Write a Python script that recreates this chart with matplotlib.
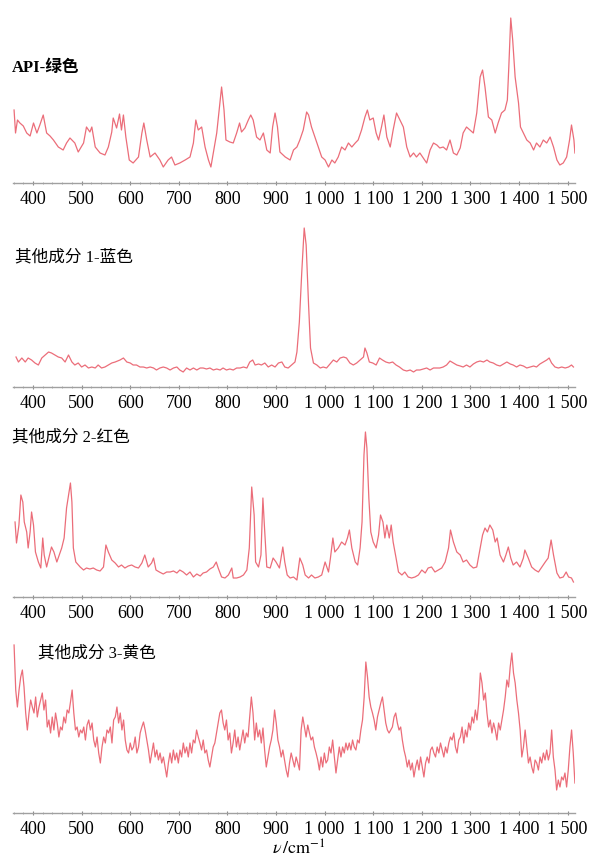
#!/usr/bin/env python3
import numpy as np
import matplotlib
matplotlib.use('Agg')
import matplotlib.pyplot as plt
from matplotlib.ticker import MultipleLocator, FuncFormatter

# API - verde
api_nu = [361, 364, 368, 373, 380, 387, 394, 401, 408, 414, 421, 428, 435, 442, 452, 462, 469, 476,
          486, 493, 504, 510, 517, 521, 528, 538, 548, 555, 562, 565, 572, 578, 582, 586, 591, 598,
          606, 617, 624, 628, 634, 641, 651, 661, 668, 678, 685, 692, 702, 713, 723, 730, 735, 740,
          747, 754, 761, 766, 771, 778, 783, 788, 793, 797, 805, 812, 819, 825, 829, 836, 843, 848,
          853, 860, 867, 874, 881, 888, 893, 898, 903, 908, 919, 929, 936, 943, 949, 956, 963, 967,
          973, 980, 987, 994, 1001, 1008, 1015, 1021, 1028, 1035, 1042, 1049, 1056, 1063, 1069,
          1076, 1083, 1088, 1093, 1100, 1106, 1111, 1117, 1122, 1128, 1135, 1141, 1148, 1155, 1162,
          1169, 1176, 1183, 1189, 1196, 1203, 1210, 1217, 1224, 1231, 1237, 1244, 1251, 1258, 1265,
          1272, 1279, 1285, 1292, 1299, 1306, 1313, 1320, 1325, 1330, 1337, 1344, 1351, 1357, 1364,
          1371, 1376, 1379, 1383, 1387, 1392, 1399, 1403, 1409, 1416, 1423, 1430, 1436, 1443, 1450,
          1457, 1464, 1471, 1478, 1484, 1491, 1498, 1504, 1508, 1513, 1515]
api_int = [73, 50, 63, 60, 57, 50, 47, 60, 50, 58, 68, 50, 47, 43, 36, 33, 40, 45,
           40, 31, 40, 56, 51, 56, 36, 30, 28, 36, 51, 65, 55, 69, 53, 68, 46, 23,
           20, 26, 50, 60, 43, 26, 30, 23, 16, 23, 26, 18, 20, 23, 26, 40, 63, 53,
           56, 36, 23, 16, 30, 50, 73, 96, 73, 43, 41, 40, 50, 60, 51, 55, 63, 68,
           63, 46, 43, 50, 33, 30, 56, 70, 56, 31, 26, 23, 33, 36, 43, 53, 71, 68,
           56, 46, 36, 26, 23, 16, 23, 20, 26, 36, 33, 40, 36, 40, 43,
           53, 66, 73, 63, 65, 50, 43, 56, 68, 46, 36, 53, 70, 63, 56,
           36, 26, 30, 26, 30, 25, 20, 33, 40, 38, 35, 36, 33, 43, 30,
           28, 35, 50, 56, 53, 50, 70, 106, 113, 96, 66, 63, 50, 60, 70,
           73, 83, 116, 165, 143, 106, 80, 56, 50, 43, 40, 33, 40, 36, 43,
           40, 46, 36, 23, 18, 20, 26, 43, 58, 43, 30]

# Otros componentes 1 - azul
comp1_nu = [365, 370, 377, 384, 390, 397, 404, 411, 418, 425, 432, 438, 445, 452, 459, 466, 473, 480,
            486, 493, 500, 507, 514, 521, 528, 534, 541, 548, 555, 562, 569, 579, 586, 593, 600, 606,
            613, 620, 627, 634, 641, 648, 654, 661, 668, 675, 682, 689, 696, 702, 709, 716, 723, 730,
            737, 744, 750, 757, 764, 771, 778, 785, 791, 798, 805, 812, 819, 826, 833, 840, 846, 852,
            857, 864, 870, 877, 884, 891, 898, 905, 912, 918, 925, 932, 939, 943, 948, 953, 958, 962,
            967, 971, 977, 984, 991, 997, 1004, 1011, 1018, 1025, 1032, 1039, 1045, 1052, 1059, 1066,
            1073, 1080, 1083, 1087, 1092, 1099, 1106, 1113, 1119, 1126, 1133, 1140, 1147, 1154, 1162,
            1169, 1176, 1183, 1189, 1196, 1203, 1210, 1217, 1224, 1231, 1237, 1244, 1251, 1258, 1265,
            1272, 1279, 1285, 1292, 1299, 1306, 1313, 1320, 1327, 1334, 1340, 1347, 1354, 1361, 1368,
            1375, 1382, 1388, 1395, 1402, 1409, 1416, 1423, 1430, 1436, 1443, 1450, 1457, 1462, 1467,
            1474, 1481, 1488, 1495, 1502, 1508, 1512]
comp1_int = [30, 25, 29, 25, 29, 27, 24, 22, 29, 32, 35, 34, 32, 30, 29, 25, 32, 25,
             22, 24, 20, 22, 19, 20, 19, 22, 19, 20, 22, 24, 25, 27, 29, 25, 24, 22,
             22, 20, 20, 19, 20, 19, 17, 19, 20, 19, 17, 19, 20, 17, 15, 19, 17, 19,
             17, 19, 19, 18, 19, 17, 18, 17, 19, 17, 18, 17, 19, 19, 20, 19, 25, 27,
             22, 23, 22, 24, 20, 22, 20, 24, 25, 20, 19, 22, 25, 35, 65, 115, 159, 142,
             82, 39, 24, 22, 19, 20, 19, 23, 27, 25, 29, 30, 29, 24, 22, 24,
             27, 30, 39, 34, 25, 24, 22, 29, 27, 25, 24, 25, 22, 20, 17,
             16, 17, 15, 17, 17, 18, 19, 17, 19, 19, 19, 20, 22, 26, 24,
             22, 21, 20, 22, 20, 23, 25, 26, 25, 27, 25, 24, 22, 21, 23,
             25, 23, 22, 20, 22, 21, 19, 20, 21, 20, 23, 25, 27, 29, 24,
             20, 19, 20, 19, 20, 22, 20]

# Otros componentes 2 - rojo
comp2_nu = [363, 366, 371, 375, 379, 382, 387, 390, 394, 397, 401, 405, 411, 416, 420, 423, 428, 434,
            438, 443, 449, 454, 459, 464, 469, 474, 477, 480, 483, 488, 497, 504, 510, 517, 524, 531,
            538, 545, 550, 555, 562, 569, 576, 582, 589, 596, 603, 610, 617, 624, 630, 637, 644, 648,
            653, 660, 668, 675, 682, 689, 696, 702, 709, 716, 723, 730, 737, 744, 750, 757, 764, 771,
            777, 781, 788, 795, 802, 809, 812, 819, 826, 833, 840, 845, 850, 855, 858, 864, 869, 873,
            876, 881, 888, 894, 900, 907, 914, 918, 923, 929, 936, 943, 949, 955, 960, 967, 973, 980,
            987, 994, 1001, 1008, 1012, 1017, 1021, 1028, 1035, 1042, 1047, 1051, 1056, 1063, 1068,
            1073, 1077, 1081, 1084, 1087, 1091, 1095, 1100, 1106, 1111, 1115, 1120, 1124, 1128, 1133,
            1137, 1141, 1147, 1152, 1159, 1165, 1172, 1179, 1186, 1193, 1200, 1207, 1213, 1220, 1227,
            1234, 1241, 1248, 1255, 1259, 1265, 1272, 1279, 1285, 1292, 1299, 1306, 1313, 1320, 1325,
            1330, 1335, 1340, 1346, 1351, 1355, 1361, 1368, 1373, 1378, 1383, 1388, 1395, 1402, 1409,
            1412, 1419, 1426, 1433, 1440, 1447, 1454, 1460, 1466, 1471, 1478, 1484, 1491, 1497, 1502,
            1508, 1512]
comp2_int = [75, 54, 72, 102, 95, 75, 65, 49, 65, 85, 72, 45, 35, 29, 59, 42, 30, 42,
             50, 45, 35, 42, 49, 59, 89, 105, 114, 95, 49, 35, 30, 27, 29, 28, 29, 27,
             26, 30, 52, 45, 37, 34, 30, 32, 29, 31, 32, 30, 29, 34, 42, 30, 34, 39,
             27, 25, 23, 25, 25, 26, 24, 27, 25, 22, 25, 20, 23, 21, 24, 25, 28, 30,
             35, 29, 20, 19, 22, 29, 19, 19, 20, 22, 27, 49, 110, 82, 35, 30, 42, 99,
             72, 30, 29, 39, 35, 29, 50, 35, 22, 19, 20, 17, 39, 32, 22, 19, 22, 19,
             20, 22, 35, 25, 39, 59, 45, 49, 55, 52, 59, 67, 49, 35, 32,
             49, 75, 142, 165, 149, 99, 65, 55, 49, 62, 82, 75, 59, 72, 59,
             72, 55, 39, 25, 22, 25, 20, 19, 20, 22, 27, 24, 29, 30, 25,
             27, 29, 35, 49, 67, 55, 45, 42, 35, 37, 32, 29, 30, 49, 62,
             69, 65, 72, 67, 55, 59, 42, 35, 42, 50, 39, 32, 35, 30, 39,
             47, 39, 30, 27, 25, 30, 35, 39, 57, 42, 24, 19, 20, 25, 20,
             19, 15]

# Otros componentes 3 - amarillo (muestreo regular entre 361 y 1515 cm-1)
comp3_int_izq = [168, 123, 106, 123, 136, 143, 126, 100, 83, 100, 113, 106, 100, 116, 96, 106, 113, 120,
                 103, 113, 86, 93, 80, 96, 83, 100, 90, 76, 86, 83, 96, 90, 103, 100, 111, 123,
                 100, 83, 86, 76, 83, 80, 86, 73, 88, 93, 83, 90, 73, 66, 76, 60, 50, 66,
                 76, 70, 83, 80, 86, 70, 93, 96, 106, 90, 100, 83, 93, 73, 63, 60, 70, 63,
                 66, 76, 60, 66, 80, 86, 91, 83, 73, 63, 50, 60, 70, 56, 63, 53, 60, 50,
                 56, 46, 36, 50, 60, 50, 63, 53, 60, 50, 63, 56, 70, 60, 66, 56, 70, 60,
                 73, 70, 83, 76, 70, 63, 73, 60, 63, 53, 46, 56, 66, 70, 80, 90, 100, 103,
                 90, 83, 93, 73, 80, 60, 70, 83, 66, 76, 63, 73, 83, 70, 80, 76, 96, 116,
                 100, 73, 90, 76, 83, 70, 85, 63, 46, 56, 66, 73, 83, 103, 90, 73, 66, 56,
                 63, 53, 43, 36, 50, 60, 53, 46, 56, 50, 43]
comp3_int_der = [83, 96, 86, 76, 88, 80, 73, 76, 66, 60, 53, 43, 56, 46, 60, 50, 53, 66,
                 60, 73, 56, 40, 53, 66, 56, 66, 60, 70, 63, 70, 63, 73, 66, 63, 73, 70,
                 83, 93, 116, 151, 136, 116, 106, 100, 93, 83, 96, 103, 110, 116, 103, 90, 83, 80,
                 83, 86, 96, 100, 90, 83, 86, 73, 63, 56, 46, 53, 43, 50, 36, 46, 53, 43,
                 56, 46, 36, 50, 56, 50, 63, 66, 60, 56, 66, 60, 70, 63, 56, 66, 60, 70,
                 76, 73, 80, 66, 60, 73, 76, 86, 70, 83, 76, 90, 83, 96, 90, 103, 93, 110,
                 140, 130, 113, 120, 100, 86, 93, 80, 90, 83, 73, 90, 83, 93, 103, 116, 133, 126,
                 146, 160, 140, 130, 113, 100, 83, 56, 66, 83, 66, 50, 56, 46, 40, 53, 50, 43,
                 56, 50, 60, 53, 63, 53, 60, 83, 56, 43, 23, 33, 26, 36, 33, 40, 26, 43,
                 66, 83, 60, 30]
comp3_int = comp3_int_izq + comp3_int_der
comp3_nu = np.linspace(361, 1515, len(comp3_int))

titulos = ['API-绿色', '其他成分 1-蓝色', '其他成分 2-红色', '其他成分 3-黄色']
series = [(api_nu, api_int), (comp1_nu, comp1_int), (comp2_nu, comp2_int), (comp3_nu, comp3_int)]

# Configuracion general (pixeles de la figura)
W, H = 602, 857
EJE_Y = [183, 387, 597, 813]
TITULO_POS = [(12, 68, 'bold'), (15, 257, 'normal'), (12, 437, 'normal'), (38, 653, 'normal')]
X0, X1 = 13, 575
NU0, NU1 = 358.8, 1515.2
ALTO = 180

FUENTE = ['Liberation Serif', 'Noto Sans CJK SC']
ROJO = '#e85462'


def formato_num(v, pos):
    v = int(round(v))
    if v >= 1000:
        return f'{v // 1000} {v % 1000:03d}'
    return str(v)


def dibujar_panel(fig, nu, inten, eje_y):
    ax = fig.add_axes([X0 / W, 1 - eje_y / H, (X1 - X0) / W, ALTO / H])
    ax.plot(nu, inten, color=ROJO, lw=0.9, alpha=0.85)
    ax.set_xlim(NU0, NU1)
    ax.set_ylim(0, ALTO)
    for s in ['top', 'left', 'right']:
        ax.spines[s].set_visible(False)
    ax.spines['bottom'].set_color('#a0a0a0')
    ax.spines['bottom'].set_linewidth(1.0)
    ax.set_yticks([])
    ax.xaxis.set_major_locator(MultipleLocator(100))
    ax.xaxis.set_minor_locator(MultipleLocator(20))
    ax.xaxis.set_major_formatter(FuncFormatter(formato_num))
    ax.tick_params(axis='x', which='major', direction='inout', length=3.5, width=0.8,
                   color='#8a8a8a', labelsize=13, pad=4)
    ax.tick_params(axis='x', which='minor', direction='inout', length=2, width=0.6,
                   color='#a0a0a0')
    for lab in ax.get_xticklabels():
        lab.set_family('Liberation Serif')
    ax.patch.set_alpha(0)
    return ax


def main():
    plt.rcParams['mathtext.fontset'] = 'stix'
    fig = plt.figure(figsize=(W / 100, H / 100), dpi=100)

    for (nu, inten), eje_y in zip(series, EJE_Y):
        dibujar_panel(fig, nu, inten, eje_y)

    for titulo, (tx, ty, peso) in zip(titulos, TITULO_POS):
        fig.text(tx / W, 1 - ty / H, titulo, ha='left', va='center',
                 family=FUENTE, fontsize=12, weight=peso)

    fig.text(299 / W, 1 - 849 / H, r'$\mathit{\nu}\,/\mathrm{cm}^{-1}$',
             ha='center', va='center', fontsize=13)

    fig.savefig('out.png', dpi=100)
    plt.close(fig)


if __name__ == "__main__":
    main()
